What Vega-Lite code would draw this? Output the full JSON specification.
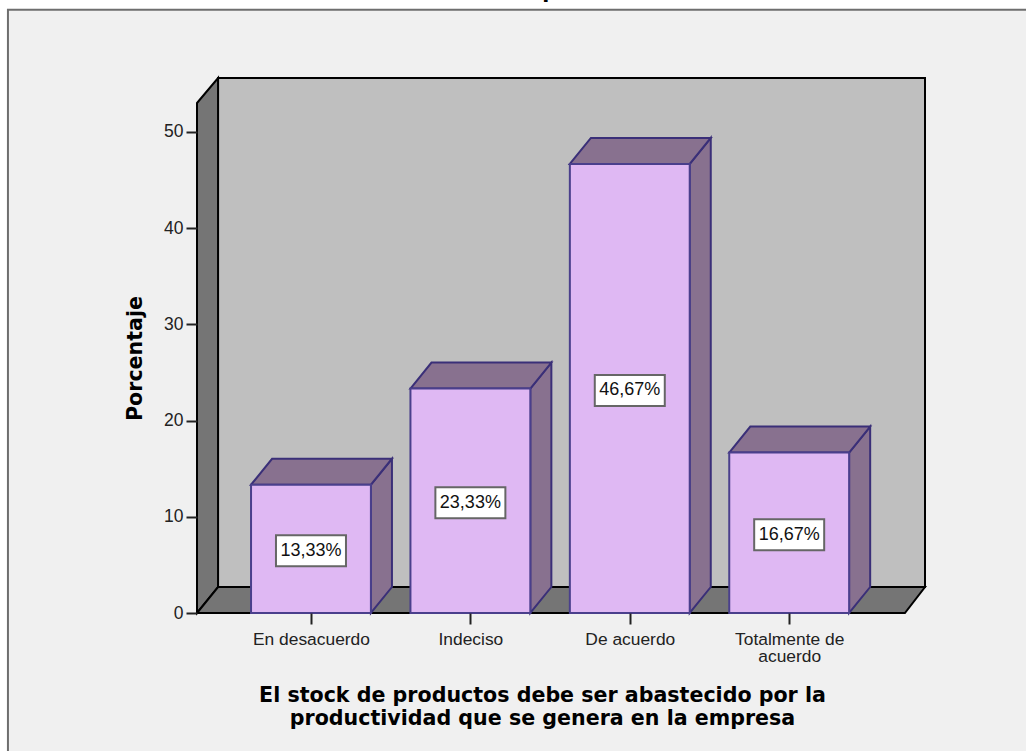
{
"$schema":"https://vega.github.io/schema/vega-lite/v6.json",
"width":728,"height":535,
"autosize":{"type":"none"},
"padding":{"left":197,"top":78,"right":101,"bottom":138},
"background":"#ffffff",
"config":{"view":{"stroke":null},"font":"Liberation Sans"},
"datasets":{
"barras":[
{"categoria":"En desacuerdo","posicion":1,"pct":13.33,"etiqueta":"13,33%"},
{"categoria":"Indeciso","posicion":2,"pct":23.33,"etiqueta":"23,33%"},
{"categoria":"De acuerdo","posicion":3,"pct":46.67,"etiqueta":"46,67%"},
{"categoria":"Totalmente de acuerdo","posicion":4,"pct":16.67,"etiqueta":"16,67%"}
],
"panel":[{"x":-0.901,"x2":5.52,"y":62.68,"y2":-15.4}],
"titulo":[{"x":2.543,"y":63.9,"texto":"empresa"}],
"fondo":[{"x":0.417,"x2":4.852,"y":55.6,"y2":2.7}],
"izquierda":[{"x":0.285,"y":53.0,"y2":0},{"x":0.417,"y":55.6,"y2":2.7}],
"suelo":[{"x":0.285,"y":0,"y2":0},{"x":0.417,"y":0,"y2":2.7},{"x":4.726,"y":0,"y2":2.7},{"x":4.852,"y":2.7,"y2":2.7}]
},
"layer":[
{"data":{"name":"panel"},
 "mark":{"type":"rect","fill":"#f0f0f0","stroke":"#6e6e6e","strokeWidth":2},
 "encoding":{
  "x":{"field":"x","type":"quantitative","scale":{"domain":[0.285,4.852],"nice":false,"zero":false},
   "axis":{"values":[1,2,3,4],"title":["El stock de productos debe ser abastecido por la","productividad que se genera en la empresa"],
    "titleFont":"DejaVu Sans","titleFontSize":20.6,"titleFontWeight":"bold","titleColor":"#000000","titleLineHeight":23,"titleX":345,"titleY":72,"titleAnchor":"middle",
    "domain":false,"grid":false,"tickSize":11,"tickWidth":2,"tickColor":"#222222","labelFontSize":17.4,"labelColor":"#222222","labelPadding":6,"labelLineHeight":17.5,"labelOverlap":false,"zindex":1,
    "labelExpr":"datum.value==1?'En desacuerdo':datum.value==2?'Indeciso':datum.value==3?'De acuerdo':['Totalmente de','acuerdo']"}},
  "x2":{"field":"x2"},
  "y":{"field":"y","type":"quantitative","scale":{"domain":[0,55.6],"nice":false,"zero":false},
   "axis":{"values":[0,10,20,30,40,50],"title":"Porcentaje","titleFont":"DejaVu Sans","titleFontSize":20.6,"titleFontWeight":"bold","titleColor":"#000000","titleX":-52,"titleY":280,"titleAnchor":"middle",
    "domain":false,"grid":false,"tickSize":11,"tickWidth":2,"tickColor":"#222222","labelFontSize":17.5,"labelColor":"#222222","labelPadding":3,"zindex":1}},
  "y2":{"field":"y2"}}},
{"data":{"name":"titulo"},
 "mark":{"type":"text","font":"DejaVu Sans","fontSize":20.6,"fontWeight":"bold","color":"#000000","align":"center","baseline":"alphabetic"},
 "encoding":{"x":{"field":"x","type":"quantitative"},"y":{"field":"y","type":"quantitative"},"text":{"field":"texto"}}},
{"data":{"name":"fondo"},
 "mark":{"type":"rect","fill":"#bfbfbf","stroke":"#000000","strokeWidth":2},
 "encoding":{"x":{"field":"x","type":"quantitative"},"x2":{"field":"x2"},"y":{"field":"y","type":"quantitative"},"y2":{"field":"y2"}}},
{"data":{"name":"izquierda"},
 "mark":{"type":"area","orient":"vertical","fill":"#757575","stroke":"#000000","strokeWidth":2},
 "encoding":{"x":{"field":"x","type":"quantitative"},"y":{"field":"y","type":"quantitative","stack":null},"y2":{"field":"y2"}}},
{"data":{"name":"suelo"},
 "mark":{"type":"area","orient":"vertical","fill":"#757575","stroke":"#000000","strokeWidth":2},
 "encoding":{"x":{"field":"x","type":"quantitative"},"y":{"field":"y","type":"quantitative","stack":null},"y2":{"field":"y2"}}},
{"data":{"name":"barras"},
 "transform":[
  {"calculate":"[0,1]","as":"v"},{"flatten":["v"]},
  {"calculate":"datum.posicion+0.376+0.132*datum.v","as":"xs"},
  {"calculate":"datum.pct+2.7*datum.v","as":"ys"},
  {"calculate":"2.7*datum.v","as":"ys2"}],
 "mark":{"type":"area","orient":"vertical","fill":"#88718f","stroke":"#3a2f78","strokeWidth":2},
 "encoding":{"x":{"field":"xs","type":"quantitative"},"y":{"field":"ys","type":"quantitative","stack":null},"y2":{"field":"ys2"},"detail":{"field":"categoria"}}},
{"data":{"name":"barras"},
 "transform":[
  {"calculate":"[0,1,2,3]","as":"v"},{"flatten":["v"]},
  {"calculate":"datum.posicion-0.376+[0,0.132,0.752,0.884][datum.v]","as":"xs"},
  {"calculate":"datum.pct+[0,2.7,2.7,2.7][datum.v]","as":"ys"},
  {"calculate":"datum.pct+[0,0,0,2.7][datum.v]","as":"ys2"}],
 "mark":{"type":"area","orient":"vertical","fill":"#88718f","stroke":"#3a2f78","strokeWidth":2},
 "encoding":{"x":{"field":"xs","type":"quantitative"},"y":{"field":"ys","type":"quantitative","stack":null},"y2":{"field":"ys2"},"detail":{"field":"categoria"}}},
{"data":{"name":"barras"},
 "transform":[
  {"calculate":"datum.posicion-0.376","as":"x0"},
  {"calculate":"datum.posicion+0.376","as":"x1"},
  {"calculate":"0","as":"base"}],
 "mark":{"type":"rect","fill":"#dfb8f3","stroke":"#4a3f8c","strokeWidth":2},
 "encoding":{"x":{"field":"x0","type":"quantitative"},"x2":{"field":"x1"},"y":{"field":"pct","type":"quantitative"},"y2":{"field":"base"}}},
{"data":{"name":"barras"},
 "transform":[{"calculate":"datum.pct/2-0.2","as":"mitad"}],
 "mark":{"type":"rect","width":70,"height":31,"fill":"#ffffff","stroke":"#666666","strokeWidth":2},
 "encoding":{"x":{"field":"posicion","type":"quantitative"},"y":{"field":"mitad","type":"quantitative"}}},
{"data":{"name":"barras"},
 "transform":[{"calculate":"datum.pct/2-0.2","as":"mitad"}],
 "mark":{"type":"text","fontSize":18,"color":"#111111","align":"center","baseline":"middle"},
 "encoding":{"x":{"field":"posicion","type":"quantitative"},"y":{"field":"mitad","type":"quantitative"},"text":{"field":"etiqueta"}}}
]
}
